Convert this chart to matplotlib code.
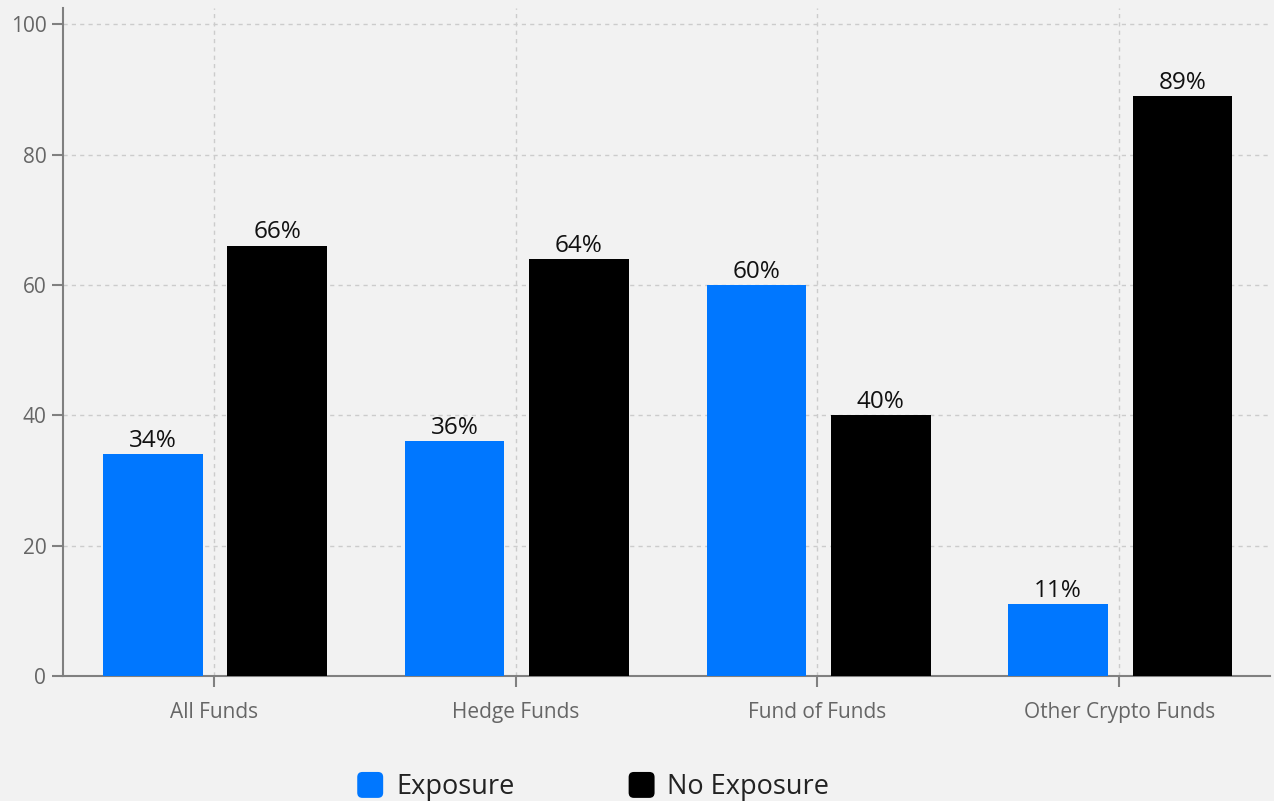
import matplotlib
matplotlib.use("Agg")
import matplotlib.pyplot as plt
import numpy as np
from matplotlib.patches import FancyBboxPatch
from matplotlib.legend_handler import HandlerPatch
from matplotlib.patches import Patch

categories = ["All Funds", "Hedge Funds", "Fund of Funds", "Other Crypto Funds"]
exposure = [34, 36, 60, 11]
no_exposure = [66, 64, 40, 89]
series_names = ["Exposure", "No Exposure"]
y_ticks = [0, 20, 40, 60, 80, 100]

plt.rcParams['font.family'] = ['Open Sans', 'DejaVu Sans']

BG = "#f2f2f2"
BLUE = "#0077ff"
BLACK = "#000000"
AXIS = "#808080"
GRID = "#cccccc"

fig = plt.figure(figsize=(12.74, 8.01), dpi=100, facecolor=BG)
ax = fig.add_axes([63/1274, 1-676/801, (1270-63)/1274, (676-8)/801])
ax.set_facecolor(BG)

x = np.arange(len(categories))
w = 0.33
b1 = ax.bar(x - 0.202, exposure, w, color=BLUE, zorder=3)
b2 = ax.bar(x + 0.21, no_exposure, w, color=BLACK, zorder=3)

for bars, vals in ((b1, exposure), (b2, no_exposure)):
    for r, v in zip(bars, vals):
        ax.annotate(f"{v}%", (r.get_x() + r.get_width()/2, r.get_height()),
                    xytext=(0, 1), textcoords="offset points",
                    ha="center", va="bottom", fontsize=17.5, color="#111111", zorder=4)

ax.set_xlim(-0.5, 3.5)
ax.set_ylim(0, 102.5)
ax.set_xticks(x)
ax.set_xticklabels(categories)
ax.set_yticks(y_ticks)
ax.grid(True, color=GRID, linestyle=(0, (3, 3)), linewidth=1, zorder=0)

for s in ("top", "right"):
    ax.spines[s].set_visible(False)
for s in ("left", "bottom"):
    ax.spines[s].set_color(AXIS)
    ax.spines[s].set_linewidth(1.5)

ax.tick_params(axis="x", colors=AXIS, length=8, width=1.5, labelsize=15,
               labelcolor="#666666", pad=11)
ax.tick_params(axis="y", colors=AXIS, length=8, width=1.5, labelsize=15,
               labelcolor="#666666", pad=4)


class RoundHandler(HandlerPatch):
    def create_artists(self, legend, orig_handle, xdescent, ydescent, width, height, fontsize, trans):
        s = min(width, height) * 1.07
        x0 = xdescent + (width - s) / 2
        y0 = -ydescent + (height - s) / 2
        p = FancyBboxPatch((x0, y0), s, s,
                           boxstyle=f"round,pad=0,rounding_size={s*0.2}",
                           facecolor=orig_handle.get_facecolor(), edgecolor="none",
                           transform=trans)
        return [p]


handles = [Patch(facecolor=BLUE), Patch(facecolor=BLACK)]
leg = fig.legend(handles, series_names, loc="center",
                 bbox_to_anchor=(593/1274, 1-787/801), ncol=2, frameon=False,
                 fontsize=19.5, handler_map={Patch: RoundHandler()},
                 handlelength=1.0, handleheight=1.0, handletextpad=0.45,
                 columnspacing=4.2, labelcolor="#222222")

fig.savefig("out.png", dpi=100, facecolor=BG)
